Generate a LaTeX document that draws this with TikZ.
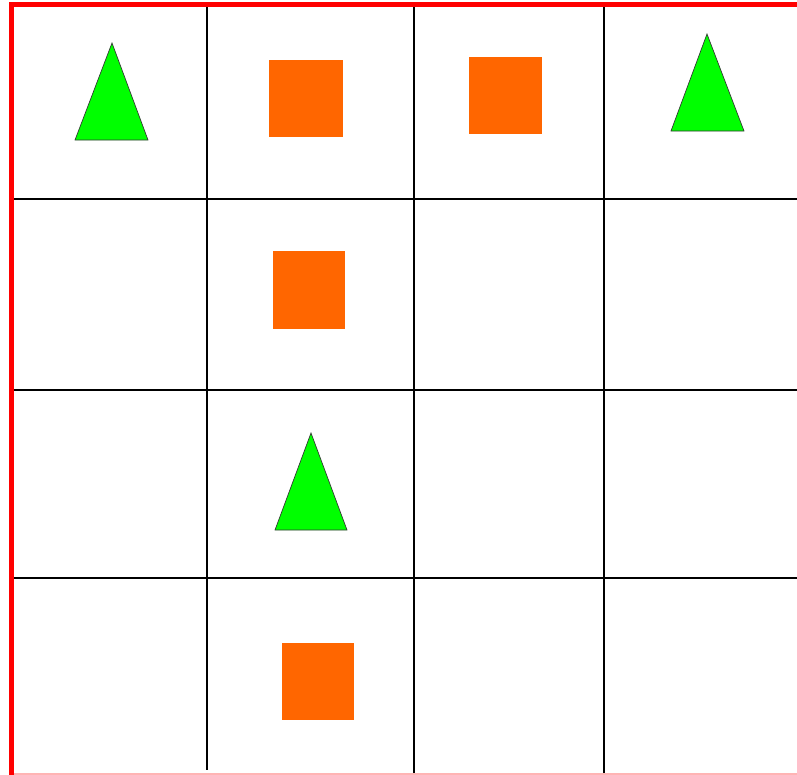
\documentclass[tikz,border=0pt]{standalone}
\definecolor{tgreen}{HTML}{00FF00}
\definecolor{sorange}{HTML}{FF6600}
\definecolor{bred}{HTML}{FF0000}
\definecolor{bpink}{HTML}{FFB4B4}
\begin{document}
\begin{tikzpicture}[x=0.75pt,y=-0.75pt,
  gridline/.style={black,line width=1.6pt},
  tri/.style={fill=tgreen,draw=black!80,line width=0.5pt,line join=miter},
  sq/.style={fill=sorange,draw=none}]
\useasboundingbox (0,0) rectangle (797,775);
\fill[white] (0,0) rectangle (797,775);
% grid lines
\draw[gridline] (207,7) -- (207,770);
\draw[gridline] (414,7) -- (414,775);
\draw[gridline] (604,7) -- (604,775);
\draw[gridline] (14,199) -- (797,199);
\draw[gridline] (14,390) -- (797,390);
\draw[gridline] (14,578) -- (797,578);
% border
\draw[bpink,line width=1.5pt] (14,774) -- (797,774);
\draw[bred,line width=3.8pt] (11.5,775) -- (11.5,4.5) -- (797,4.5);
% shapes
\draw[tri] (112,43) -- (148,140) -- (75,140) -- cycle;
\fill[sq] (269,60) rectangle (343,137);
\fill[sq] (469,57) rectangle (542,134);
\draw[tri] (707,34) -- (744,131) -- (671,131) -- cycle;
\fill[sq] (273,251) rectangle (345,329);
\draw[tri] (311,433) -- (347,530) -- (275,530) -- cycle;
\fill[sq] (282,643) rectangle (354,720);
\end{tikzpicture}
\end{document}
